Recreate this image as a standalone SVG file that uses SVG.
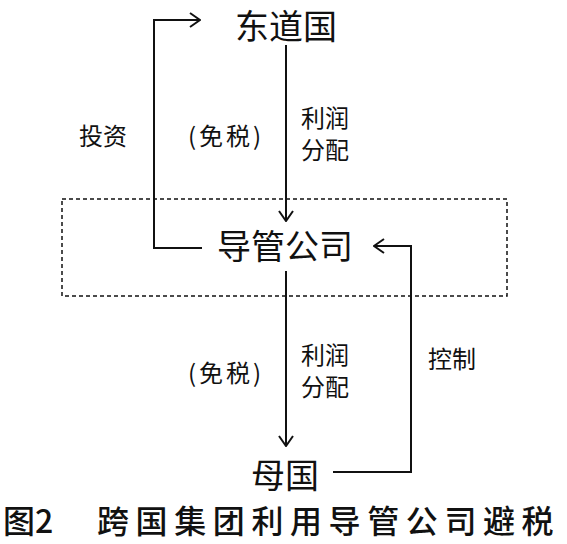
<svg xmlns="http://www.w3.org/2000/svg" width="567" height="544" viewBox="0 0 567 544">
<style>
text{font-family:"Noto Sans CJK SC","Noto Sans",sans-serif;fill:#111}
.n{font-size:34px}
.l{font-size:24px}
.c{font-size:32px;font-weight:500}
.ln{fill:none;stroke:#111;stroke-width:2}
</style>
<defs>
<marker id="ah" viewBox="0 0 12 16" refX="11" refY="8" markerWidth="12" markerHeight="16" markerUnits="userSpaceOnUse" orient="auto">
<polyline points="1,1 11,8 1,15" fill="none" stroke="#111" stroke-width="2"/>
</marker>
</defs>
<rect width="567" height="544" fill="#fff"/>
<rect x="62" y="199" width="445" height="97" fill="none" stroke="#111" stroke-width="1.5" stroke-dasharray="4,3"/>
<g id="connectors">
<polyline class="ln" points="202,248 154,248 154,20 200,20" marker-end="url(#ah)"/>
<line class="ln" x1="286" y1="45" x2="286" y2="221" marker-end="url(#ah)"/>
<line class="ln" x1="286" y1="271" x2="286" y2="446" marker-end="url(#ah)"/>
<polyline class="ln" points="333,472 411,472 411,246 374,246" marker-end="url(#ah)"/>
</g>
<g id="host"><text class="n" x="286" y="39" text-anchor="middle" font-size="33">东道国</text></g>
<g id="conduit"><text class="n" x="285" y="259" text-anchor="middle">导管公司</text></g>
<g id="home"><text class="n" x="285" y="488" text-anchor="middle">母国</text></g>
<g id="labels">
<text class="l" x="103" y="145" text-anchor="middle">投资</text>
<text class="l" x="188" y="145" letter-spacing="3">(免税)</text>
<text class="l" x="325" y="127" text-anchor="middle">利润</text>
<text class="l" x="325" y="159" text-anchor="middle">分配</text>
<text class="l" x="188" y="382" letter-spacing="3">(免税)</text>
<text class="l" x="325" y="364" text-anchor="middle">利润</text>
<text class="l" x="325" y="396" text-anchor="middle">分配</text>
<text class="l" x="452" y="368" text-anchor="middle">控制</text>
</g>
<g id="caption">
<text class="c" x="3" y="533">图2</text>
<text class="c" x="97" y="533" letter-spacing="6.6">跨国集团利用导管公司避税</text>
</g>
</svg>
